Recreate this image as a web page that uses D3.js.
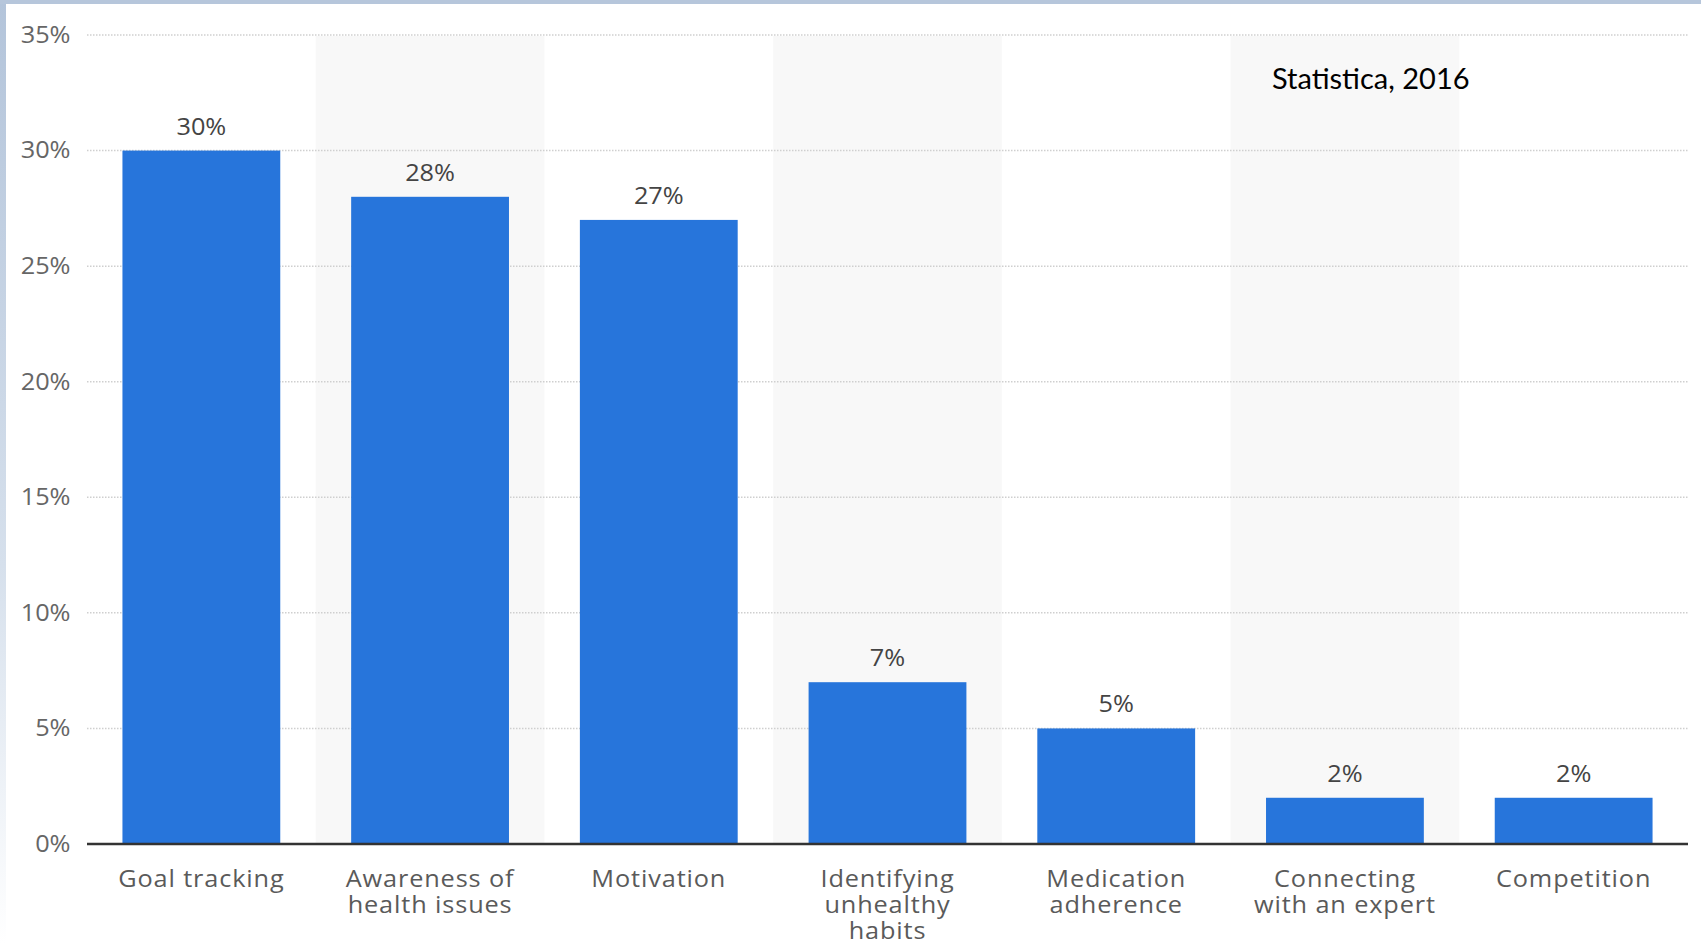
<!DOCTYPE html>
<html>
<head>
<meta charset="utf-8">
<script src="https://cdnjs.cloudflare.com/ajax/libs/d3/7.8.5/d3.min.js"></script>
<style>
  html, body { margin: 0; padding: 0; background: #fff; }
  svg { display: block; }
</style>
</head>
<body>
<div id="chart"></div>
<script>
  // Chart data
  var categories = [
    ["Goal tracking"],
    ["Awareness of", "health issues"],
    ["Motivation"],
    ["Identifying", "unhealthy", "habits"],
    ["Medication", "adherence"],
    ["Connecting", "with an expert"],
    ["Competition"]
  ];
  var values = [30, 28, 27, 7, 5, 2, 2];
  var yTicks = [0, 5, 10, 15, 20, 25, 30, 35];
  var sourceNote = "Statistica, 2016";

  var W = 1701, H = 943;
  var margin = { top: 35, right: 13, bottom: 99, left: 87 };
  var width = W - margin.left - margin.right;
  var height = H - margin.top - margin.bottom;
  var stretch = 1.1; // the reference's text is a bit wide

  var svg = d3.select("#chart")
    .append("svg")
    .attr("width", W)
    .attr("height", H);

  // slide frame: blue-grey strip on top, fading strip on the left
  var defs = svg.append("defs");
  var grad = defs.append("linearGradient")
    .attr("id", "leftFade")
    .attr("x1", 0).attr("y1", 0).attr("x2", 0).attr("y2", 1);
  grad.append("stop").attr("offset", "0%").attr("stop-color", "#b3c4da");
  grad.append("stop").attr("offset", "60%").attr("stop-color", "#d6e0ec");
  grad.append("stop").attr("offset", "100%").attr("stop-color", "#ffffff");

  svg.append("rect")
    .attr("x", 0).attr("y", 0)
    .attr("width", 6).attr("height", H)
    .attr("fill", "url(#leftFade)");
  svg.append("rect")
    .attr("x", 0).attr("y", 0)
    .attr("width", W).attr("height", 4)
    .attr("fill", "#b6c6db");

  var g = svg.append("g")
    .attr("transform", "translate(" + margin.left + "," + margin.top + ")");

  var idx = d3.range(categories.length);

  // slot scale (for the alternating background columns)
  var slot = d3.scaleBand()
    .domain(idx)
    .range([0, width])
    .padding(0);

  // bar scale: step equals slot width
  var x = d3.scaleBand()
    .domain(idx)
    .range([0, width])
    .paddingInner(0.31)
    .paddingOuter(0.155);

  var y = d3.scaleLinear()
    .domain([0, 35])
    .range([height, 0]);

  // alternating shaded columns
  g.selectAll(".band")
    .data(idx.filter(function(i) { return i % 2 === 1; }))
    .enter().append("rect")
    .attr("class", "band")
    .attr("x", function(i) { return slot(i); })
    .attr("y", y(35) + 1)
    .attr("width", slot.bandwidth())
    .attr("height", height - 1)
    .attr("fill", "#f8f8f8");

  // dotted gridlines
  g.selectAll(".grid")
    .data(yTicks.filter(function(d) { return d > 0; }))
    .enter().append("line")
    .attr("class", "grid")
    .attr("x1", 0)
    .attr("x2", width)
    .attr("y1", function(d) { return y(d); })
    .attr("y2", function(d) { return y(d); })
    .attr("stroke", "#cfcfcf")
    .attr("stroke-width", 1.5)
    .attr("stroke-dasharray", "1.5,1.5");

  // y axis labels
  var yAxis = d3.axisLeft(y)
    .tickValues(yTicks)
    .tickSize(0)
    .tickPadding(15)
    .tickFormat(function(d) { return d + "%"; });

  var yg = g.append("g").call(yAxis);
  yg.select(".domain").remove();
  yg.selectAll("text")
    .attr("fill", "#666")
    .attr("transform", "scale(" + stretch + ",1)")
    .style("font-family", "'Open Sans', sans-serif")
    .style("font-size", "23px");

  // bars
  g.selectAll(".bar")
    .data(values)
    .enter().append("rect")
    .attr("class", "bar")
    .attr("x", function(d, i) { return x(i); })
    .attr("y", function(d) { return y(d); })
    .attr("width", x.bandwidth())
    .attr("height", function(d) { return height - y(d); })
    .attr("fill", "#2775db");

  // value labels
  g.selectAll(".val")
    .data(values)
    .enter().append("text")
    .attr("class", "val")
    .attr("transform", function(d, i) {
      return "translate(" + (x(i) + x.bandwidth() / 2) + "," + (y(d) - 16) + ") scale(" + stretch + ",1)";
    })
    .attr("text-anchor", "middle")
    .attr("fill", "#444")
    .style("font-family", "'Open Sans', sans-serif")
    .style("font-size", "23px")
    .text(function(d) { return d + "%"; });

  // baseline
  g.append("line")
    .attr("x1", 0).attr("x2", width)
    .attr("y1", y(0)).attr("y2", y(0))
    .attr("stroke", "#333")
    .attr("stroke-width", 2.5);

  // category labels
  var labels = g.selectAll(".cat")
    .data(categories)
    .enter().append("text")
    .attr("class", "cat")
    .attr("text-anchor", "middle")
    .attr("fill", "#5a5a5a")
    .style("font-family", "'Open Sans', sans-serif")
    .style("font-size", "23px")
    .style("letter-spacing", "0.8px")
    .attr("transform", function(d, i) {
      return "translate(" + (x(i) + x.bandwidth() / 2) + "," + (height + 43) + ") scale(" + stretch + ",1)";
    });

  labels.selectAll("tspan")
    .data(function(d) { return d; })
    .enter().append("tspan")
    .attr("x", 0)
    .attr("y", function(d, j) { return j * 26; })
    .text(function(d) { return d; });

  // source note
  svg.append("text")
    .attr("x", 1272)
    .attr("y", 89)
    .attr("fill", "#000")
    .style("font-family", "Lato, 'Open Sans', sans-serif")
    .style("font-size", "29px")
    .text(sourceNote);
</script>
</body>
</html>
